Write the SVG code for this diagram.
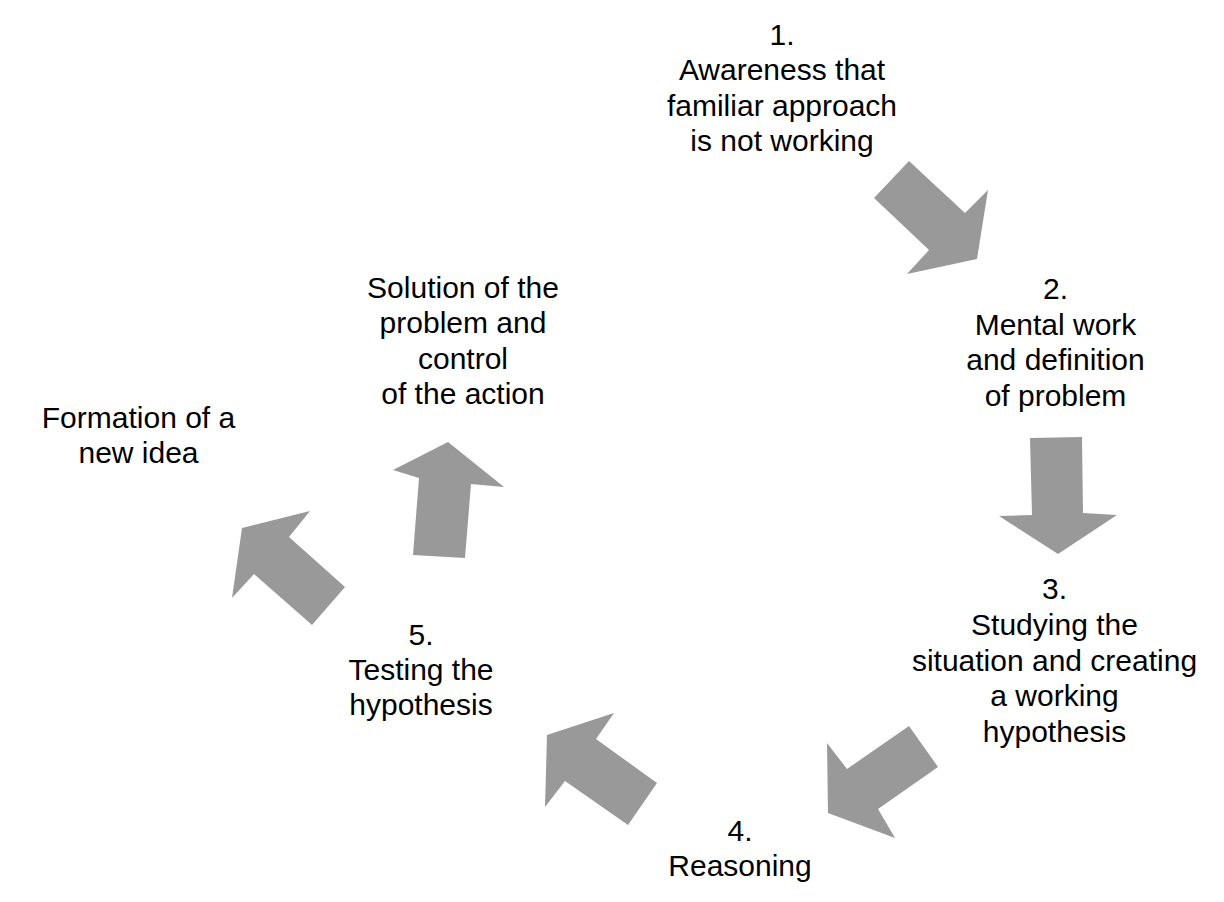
<svg xmlns="http://www.w3.org/2000/svg" width="1224" height="902" viewBox="0 0 1224 902">
<style>
text{font-family:"Liberation Sans",Arial,sans-serif;font-size:30px;fill:#000;text-anchor:middle}
.arr{fill:#999999;stroke:none}
</style>
<rect width="1224" height="902" fill="#fff"/>
<g id="step1"><text x="782" y="44.5">1.</text><text x="782" y="80">Awareness that</text><text x="782" y="115.5">familiar approach</text><text x="782" y="151">is not working</text></g>
<g id="step2"><text x="1055.5" y="299">2.</text><text x="1055.5" y="334.5">Mental work</text><text x="1055.5" y="370">and definition</text><text x="1055.5" y="405.5">of problem</text></g>
<g id="step3"><text x="1054.5" y="599">3.</text><text x="1054.5" y="635">Studying the</text><text x="1054.5" y="670.5">situation and creating</text><text x="1054.5" y="706">a working</text><text x="1054.5" y="741.5">hypothesis</text></g>
<g id="step4"><text x="740" y="841">4.</text><text x="740" y="876">Reasoning</text></g>
<g id="step5"><text x="421" y="644.5">5.</text><text x="421" y="680">Testing the</text><text x="421" y="715">hypothesis</text></g>
<g id="solution"><text x="463" y="297.5">Solution of the</text><text x="463" y="333">problem and</text><text x="463" y="368.5">control</text><text x="463" y="404">of the action</text></g>
<g id="formation"><text x="138.5" y="427.5">Formation of a</text><text x="138.5" y="463">new idea</text></g>
<g id="connectors">
<polygon class="arr" points="909,161 965,213 988,190 977,259 907,274 929,250 874,198"/>
<polygon class="arr" points="1030,438 1082,437 1083,513 1117,515 1058,554 999,516 1032,515"/>
<polygon class="arr" points="909,726 938,767 878,809 895,838 828,813 827,743 847,769"/>
<polygon class="arr" points="614,713 596,739 657,783 628,825 565,781 545,807 547,735"/>
<polygon class="arr" points="310,511 289,537 345,587 312,625 254,574 232,598 242,528"/>
<polygon class="arr" points="448,442 504,487 471,484 465,558 413,555 419,478 393,470"/>
</g>
</svg>
